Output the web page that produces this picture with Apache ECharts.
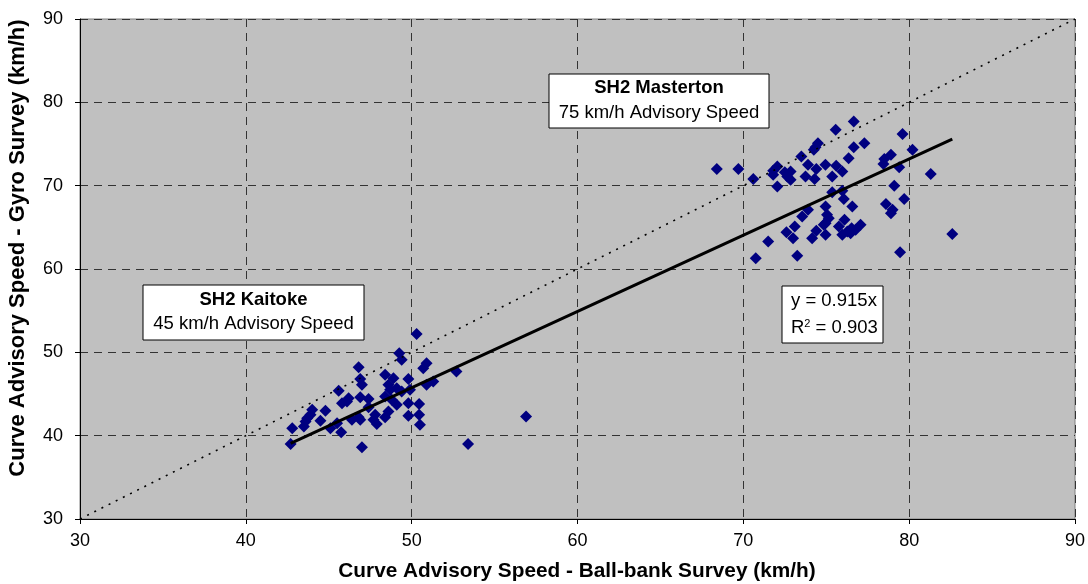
<!DOCTYPE html>
<html>
<head>
<meta charset="utf-8">
<script src="https://cdn.jsdelivr.net/npm/echarts@6/dist/echarts.min.js"></script>
<style>
  html, body { margin: 0; padding: 0; background: #ffffff; }
  #chart { width: 1088px; height: 584px; }
</style>
</head>
<body>
<div id="chart"></div>
<script>
// SH2 Kaitoke curves (45 km/h advisory)
const kaitokeBallBank = [50.3, 49.25, 49.4, 46.8, 50.9, 50.7, 52.7, 46.9, 47.0, 48.4, 48.9, 49.8, 51.3, 50.9,
  45.6, 48.6, 48.7, 49.1, 49.4, 49.9, 46.2, 45.8, 46.1, 46.9, 47.4, 48.4, 48.8, 49.1, 49.8, 50.45, 47.4,
  44.0, 43.9, 43.7, 43.5, 43.6, 44.8, 44.5, 47.8, 47.9, 48.4, 48.6, 46.4, 46.8, 49.8, 50.45, 50.5, 42.8,
  45.5, 45.1, 45.75, 42.7, 47.0, 53.4, 56.9, 47.7, 46.9];
const kaitokeGyro = [52.2, 49.9, 49.1, 48.2, 48.7, 48.1, 47.7, 46.8, 46.1, 47.3, 46.9, 46.8, 46.5, 46.1,
  45.4, 46.1, 45.5, 45.7, 45.3, 45.5, 44.5, 43.9, 44.1, 44.6, 44.4, 44.7, 44.3, 43.7, 43.9, 43.8, 43.4,
  43.1, 42.5, 42.1, 41.1, 41.7, 43.0, 41.8, 42.5, 41.4, 42.2, 42.9, 41.9, 42.2, 42.4, 42.5, 41.3, 40.9,
  41.5, 40.9, 40.4, 39.0, 38.6, 39.0, 42.3, 41.9, 41.9];

// SH2 Masterton curves (75 km/h advisory)
const mastertonBallBank = [76.66, 75.57, 79.6, 74.5, 74.35, 74.25, 76.66, 77.3, 80.2, 73.5, 76.35, 78.5,
  78.9, 78.45, 68.4, 69.7, 72.05, 71.8, 71.8, 72.5, 72.85, 72.85, 72.65, 73.9, 74.4, 74.95, 75.6, 75.97,
  73.75, 74.3, 75.36, 70.6, 72.05, 79.4, 81.3, 79.1, 75.36, 75.97, 76.06, 79.7, 74.96, 76.57, 73.9, 78.6,
  79.0, 78.9, 73.55, 75.05, 75.15, 74.96, 73.1, 74.85, 76.1, 75.76, 76.53, 77.07, 76.77, 76.27, 76.47,
  72.6, 73.0, 74.4, 74.15, 74.96, 75.97, 71.5, 70.75, 73.25, 79.45, 82.6];
const mastertonGyro = [77.7, 76.7, 76.2, 75.1, 74.6, 74.3, 74.6, 75.1, 74.3, 73.5, 73.3, 73.2,
  73.7, 72.6, 72.0, 72.0, 72.3, 71.3, 71.8, 71.6, 71.7, 70.7, 71.1, 72.5, 72.0, 72.5, 72.4, 71.7,
  71.1, 70.8, 71.1, 70.8, 69.9, 72.2, 71.4, 70.0, 69.2, 69.4, 68.4, 68.4, 67.5, 67.5, 67.1, 67.8,
  67.1, 66.7, 66.3, 66.5, 66.1, 65.5, 65.1, 65.3, 65.9, 65.1, 64.9, 65.3, 64.7, 64.5, 64.3,
  64.4, 63.7, 64.6, 63.7, 64.1, 64.1, 63.3, 61.3, 61.6, 62.0, 64.2];

// Fitted line through the origin and its goodness of fit
const trendSlope = 0.915;
const trendR2 = 0.903;

// Shared axis range (km/h)
const axisMin = 30;
const axisMax = 90;
const axisStep = 10;

const xTitle = 'Curve Advisory Speed - Ball-bank Survey (km/h)';
const yTitle = 'Curve Advisory Speed - Gyro Survey (km/h)';

const zip = (xs, ys) => xs.map((x, i) => [x, ys[i]]);
const kaitokePts = zip(kaitokeBallBank, kaitokeGyro);
const mastertonPts = zip(mastertonBallBank, mastertonGyro);
const allX = kaitokeBallBank.concat(mastertonBallBank);
const xLo = Math.min(...allX), xHi = Math.max(...allX);
const trendPts = [[xLo, trendSlope * xLo], [xHi, trendSlope * xHi]];
const equalityPts = [[axisMin, axisMin], [axisMax, axisMax]];

const FONT = '"Liberation Sans", Arial, sans-serif';
const chart = echarts.init(document.getElementById('chart'), null, { renderer: 'canvas' });

const axisCommon = {
  type: 'value',
  min: axisMin,
  max: axisMax,
  interval: axisStep,
  axisLine: { show: true, onZero: false, lineStyle: { color: '#000', width: 1 } },
  axisTick: { show: true, inside: false, length: 5, lineStyle: { color: '#000' } },
  splitLine: { show: true, lineStyle: { color: '#333', width: 1, type: [8, 6] } },
  axisLabel: { color: '#000', fontFamily: FONT, fontSize: 18 }
};

function textBox(x, y, w, h, lines) {
  return {
    type: 'group',
    children: [
      { type: 'rect', shape: { x: x, y: y, width: w, height: h },
        style: { fill: '#fff', stroke: '#000', lineWidth: 1 }, z: 10 },
      ...lines.map(l => ({
        type: 'text', z: 11, x: l.x, y: l.y,
        style: Object.assign({
          fill: '#000', fontFamily: FONT, fontSize: 18.5,
          textAlign: l.align || 'center', textVerticalAlign: 'middle'
        }, l.style || {})
      }))
    ]
  };
}

const markerStyle = { color: '#000080', opacity: 1 };

chart.setOption({
  animation: false,
  backgroundColor: '#ffffff',
  grid: {
    left: 80, right: 13, top: 19, bottom: 65,
    outerBoundsMode: 'none',
    containLabel: false,
    show: true, backgroundColor: '#c0c0c0', borderColor: '#808080', borderWidth: 1
  },
  xAxis: Object.assign({}, axisCommon, {
    axisLabel: Object.assign({}, axisCommon.axisLabel, { margin: 13 })
  }),
  yAxis: Object.assign({}, axisCommon, {
    axisLabel: Object.assign({}, axisCommon.axisLabel, { margin: 17 })
  }),
  series: [
    { name: 'SH2 Kaitoke', type: 'scatter', data: kaitokePts, symbol: 'diamond', symbolSize: 12,
      itemStyle: markerStyle, z: 3 },
    { name: 'SH2 Masterton', type: 'scatter', data: mastertonPts, symbol: 'diamond', symbolSize: 12,
      itemStyle: markerStyle, z: 3 },
    { name: 'y = x', type: 'line', data: equalityPts, showSymbol: false, symbol: 'none',
      lineStyle: { color: '#000', width: 1.6, type: [2, 6] }, z: 4, silent: true },
    { name: 'Linear fit', type: 'line', data: trendPts, showSymbol: false, symbol: 'none',
      lineStyle: { color: '#000', width: 3 }, z: 5, silent: true }
  ],
  graphic: [
    // axis titles
    { type: 'text', x: 577, y: 571,
      style: { text: xTitle, fill: '#000', fontFamily: FONT, fontWeight: 'bold', fontSize: 20.8,
               textAlign: 'center', textVerticalAlign: 'middle' } },
    { type: 'text', x: 18, y: 248, rotation: Math.PI / 2,
      style: { text: yTitle, fill: '#000', fontFamily: FONT, fontWeight: 'bold', fontSize: 22,
               textAlign: 'center', textVerticalAlign: 'middle' } },
    textBox(143, 285, 221, 55, [
      { x: 253.5, y: 300, style: { text: 'SH2 Kaitoke', fontWeight: 'bold' } },
      { x: 253.5, y: 324, style: { text: '45 km/h Advisory Speed' } }
    ]),
    textBox(549, 74, 220, 54, [
      { x: 659, y: 88, style: { text: 'SH2 Masterton', fontWeight: 'bold' } },
      { x: 659, y: 113, style: { text: '75 km/h Advisory Speed' } }
    ]),
    {
      type: 'group',
      children: [
        { type: 'rect', shape: { x: 782, y: 286, width: 101, height: 57 },
          style: { fill: '#fff', stroke: '#000', lineWidth: 1 }, z: 10 },
        { type: 'text', z: 11, x: 791, y: 301,
          style: { text: 'y = ' + trendSlope + 'x', fill: '#000', fontFamily: FONT, fontSize: 18.5,
                   textAlign: 'left', textVerticalAlign: 'middle' } },
        { type: 'text', z: 11, x: 791, y: 328,
          style: { text: '{b|R}{s|2}{b| = ' + trendR2 + '}',
                   fill: '#000', fontFamily: FONT, textAlign: 'left', textVerticalAlign: 'middle',
                   rich: { b: { fontSize: 18.5, fontFamily: FONT, fill: '#000' },
                           s: { fontSize: 11, fontFamily: FONT, fill: '#000', verticalAlign: 'top', padding: [0, 0, 8, 0] } } } }
      ]
    }
  ]
});
</script>
</body>
</html>
